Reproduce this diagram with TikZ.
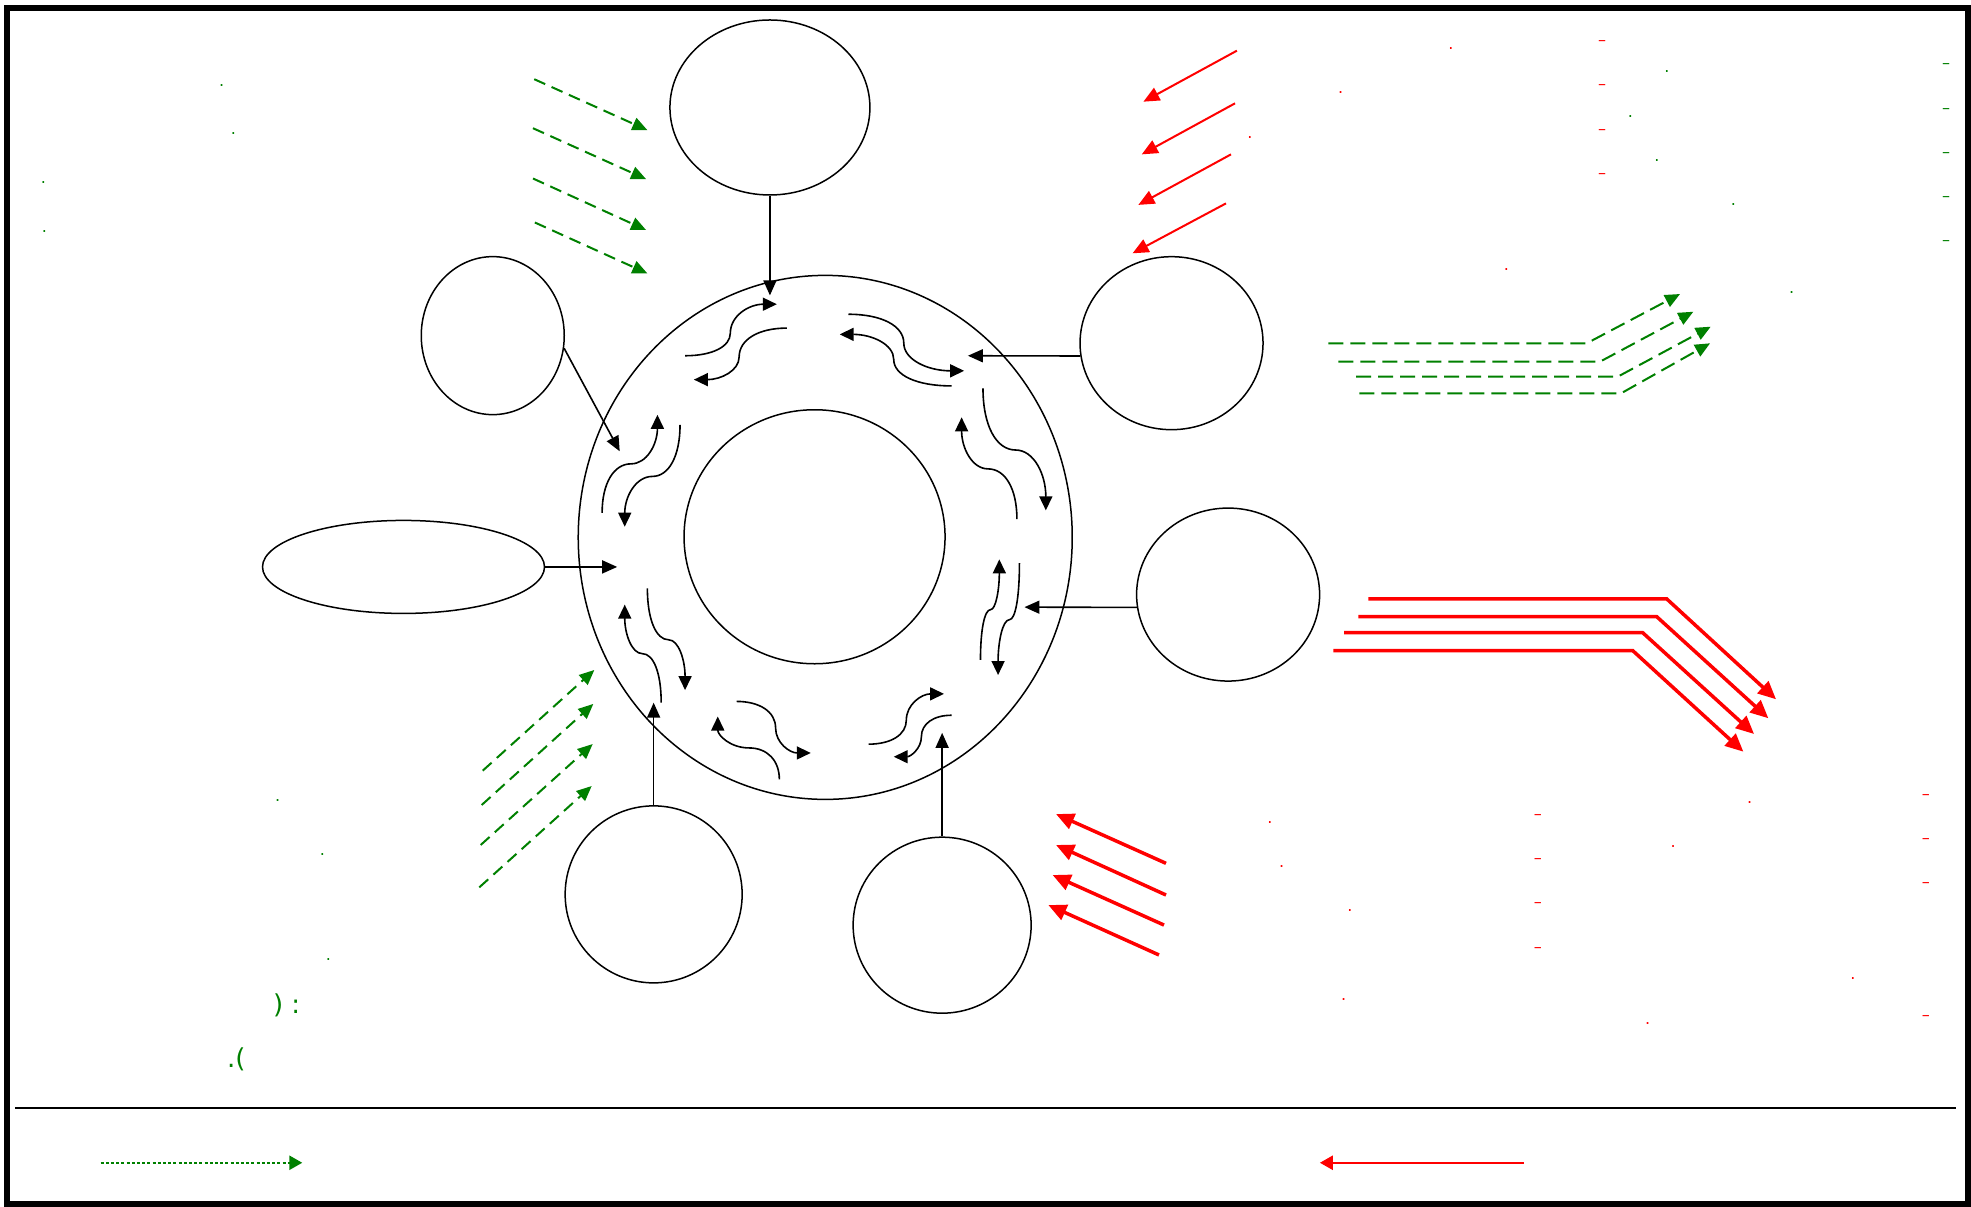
\documentclass[tikz,border=0pt]{standalone}
\usepackage{fontspec}
\setmainfont{DejaVu Sans}
\usetikzlibrary{arrows.meta,shapes.geometric}
\definecolor{gr}{RGB}{0,128,0}
\newcommand\myHcurve[6]{\draw[wave] (#1,#2) .. controls ({#1+0.6*(#3-#1)},#2) and (#3,{#4+0.6*(#2-#4)}) .. (#3,#4) .. controls (#3,{#4+0.6*(#6-#4)}) and ({#5+0.6*(#3-#5)},#6) .. (#5,#6);}
\newcommand\myVcurve[6]{\draw[wave] (#1,#2) .. controls (#1,{#2+0.6*(#4-#2)}) and ({#3+0.6*(#1-#3)},#4) .. (#3,#4) .. controls ({#3+0.6*(#5-#3)},#4) and (#5,{#6+0.6*(#4-#6)}) .. (#5,#6);}
\begin{document}
\begin{tikzpicture}[x=1.257pt,y=-1.257pt,
  ell/.style={draw, ellipse, line width=1.5pt, inner sep=0pt},
  conn/.style={line width=1.6pt, -{Triangle[length=15pt,width=13pt]}},
  wave/.style={line width=1.6pt, -{Triangle[length=14pt,width=13pt]}},
  gdash/.style={gr, line width=2pt, dash pattern=on 12pt off 7pt, -{Triangle[length=15pt,width=13pt]}},
  gdashb/.style={gdash, dash pattern=on 15pt off 7pt},
  rthin/.style={red, line width=2pt, -{Triangle[length=16pt,width=14pt]}},
  rthick/.style={red, line width=3.5pt, -{Triangle[length=18pt,width=16pt]}},
  gtxt/.style={text=gr, inner sep=0pt, font=\fontsize{16}{18}\selectfont},
  rtxt/.style={text=red, inner sep=0pt, font=\fontsize{16}{18}\selectfont},
  bigtxt/.style={text=gr, inner sep=0pt, font=\fontsize{26}{30}\selectfont}]
\useasboundingbox (0,0) rectangle (1568,960);
% frame and separator
\draw[line width=6pt] (5.6,6.4) rectangle (1565.6,957.8);
\draw[line width=1.8pt] (12,881.7) -- (1556,881.7);

% central ring
\node[ell, minimum width=494pt, minimum height=524pt] (ring) at (656.5,427.5) {};
\node[ell, minimum width=261pt, minimum height=254pt] (core) at (648,427) {};

% surrounding ellipses
\node[ell, minimum width=200pt, minimum height=175pt] (top) at (612.5,85.5) {};
\node[ell, minimum width=143pt, minimum height=158pt] (ul) at (392,267) {};
\node[ell, minimum width=282pt, minimum height=93pt] (lft) at (321,451) {};
\node[ell, minimum width=177pt, minimum height=177pt] (bl) at (520,711.5) {};
\node[ell, minimum width=178pt, minimum height=176pt] (br) at (749.5,736) {};
\node[ell, minimum width=183pt, minimum height=173pt] (rgt) at (977,473) {};
\node[ell, minimum width=183pt, minimum height=173pt] (ur) at (932,273) {};

% connectors into the ring
\coordinate (tTip) at (612.5,235);
\coordinate (ulTip) at (493,359);
\coordinate (lTip) at (491,451);
\coordinate (blTip) at (520,559);
\coordinate (brTip) at (749.5,583);
\coordinate (rTip) at (815,483);
\coordinate (urTip) at (770,283);
\draw[conn] (top.south) -- (tTip);
\draw[conn] (ul.-10) -- (ulTip);
\draw[conn] (lft.east) -- (lTip);
\draw[conn] (bl.north) -- (blTip);
\draw[conn] (br.north) -- (brTip);
\draw[conn] (rgt.188) -- (rTip);
\draw[conn] (ur.188) -- (urTip);

% wavy exchange arrows inside the ring
\myHcurve{545}{283}{581}{265}{618}{242}
\myHcurve{626}{261}{588}{284}{552}{302}
\myHcurve{675}{250}{719}{273}{767}{295}
\myHcurve{757}{307}{711}{286}{668}{266}
\myVcurve{782}{309}{808}{358}{832}{406}
\myVcurve{809}{413}{786}{373}{765}{332}
\myVcurve{811}{448}{803}{493}{794}{537}
\myVcurve{780}{525}{788}{485}{795}{445}
\myHcurve{691}{592}{721}{573}{751}{552}
\myHcurve{757}{569}{733}{586}{711}{602}
\myHcurve{586}{558}{617}{579}{645}{599}
\myVcurve{620}{620}{596}{595}{571}{570}
\myVcurve{515}{468}{532}{509}{545}{549}
\myVcurve{526}{559}{511}{520}{497}{481}
\myVcurve{479}{408}{502}{369}{523}{330}
\myVcurve{541}{338}{519}{379}{497}{419}

% green dashed arrows, top left
\draw[gdash] (425,63) -- (515,103.5);
\draw[gdash] (424,102) -- (514,142.5);
\draw[gdash] (424,142) -- (514,183);
\draw[gdash] (425.5,177) -- (515,217.5);

% red arrows, top
\draw[rthin] (984,40.3) -- (909.6,80.9);
\draw[rthin] (982.5,82.2) -- (908.3,122.8);
\draw[rthin] (979.3,122.8) -- (905.6,163);
\draw[rthin] (975.3,161.8) -- (901,201.5);

% green dashed bent arrows, right
\draw[gdashb] (1056.8,273.1) -- (1262.3,273.1) -- (1336.5,233.9);
\draw[gdashb] (1064.7,287.7) -- (1272.9,287.7) -- (1347.1,248);
\draw[gdashb] (1078.8,299.7) -- (1286.9,299.7) -- (1360.9,259.9);
\draw[gdashb] (1081.4,312.9) -- (1289.6,312.9) -- (1360.4,273.1);

% red thick bent arrows, right
\draw[rthick] (1088.6,476.5) -- (1326,476.5) -- (1412.9,556.3);
\draw[rthick] (1080.6,490.6) -- (1318,490.6) -- (1406.8,571.4);
\draw[rthick] (1069.2,503.3) -- (1306.8,503.3) -- (1395.4,583.9);
\draw[rthick] (1060.7,517.6) -- (1298.9,517.6) -- (1386.9,598);

% red thick arrows, bottom
\draw[rthick] (927.6,686.8) -- (840.1,647.6);
\draw[rthick] (927.6,712) -- (840.1,672.2);
\draw[rthick] (926,735.9) -- (837.4,696.1);
\draw[rthick] (922,759.7) -- (834,720);

% green dashed arrows, bottom left
\draw[gdash] (384,613.1) -- (472.8,533);
\draw[gdash] (383.2,640.4) -- (472,560);
\draw[gdash] (382.4,672.2) -- (471.5,591.9);
\draw[gdash] (381.3,705.9) -- (470.7,625.3);

% legend
\coordinate (lgA) at (80,925);
\coordinate (lgB) at (240.5,925);
\coordinate (lgC) at (1212,925);
\coordinate (lgD) at (1050,925);
\draw[gr, line width=2.5pt, dash pattern=on 3pt off 2.2pt, -{Triangle[length=13pt,width=14pt]}] (lgA) -- (lgB);
\draw[red, line width=2.5pt, -{Triangle[length=13pt,width=14pt]}] (lgC) -- (lgD);

% text remnants
\foreach \i/\p in {1/{(176.4,67.9)},2/{(185.6,106)},3/{(34.5,145)},4/{(35.3,184)},5/{(220.9,637.2)},6/{(256.4,679.4)},7/{(261.2,763.7)},8/{(1326,57)},9/{(1297,92.8)},10/{(1318.1,127.6)},11/{(1379,162.6)},12/{(1425.3,232.6)}}
  \node[gtxt] (gd\i) at \p {.};
\foreach \i/\y in {1/52.8,2/88.6,3/123.6,4/158.6,5/193.6}
  \node[gtxt] (gm\i) at (1548.2,\y) {–};
\node[bigtxt] (gp1) at (228,800) {) :};
\node[bigtxt] (gp2) at (188,843) {.(};
\foreach \i/\p in {1/{(1154.3,38.5)},2/{(1066.6,73.5)},3/{(994.4,109.2)},4/{(1198.3,214.3)},5/{(1010.2,654.2)},6/{(1019.6,689.2)},7/{(1073.8,724.2)},8/{(1069,795)},9/{(1392,638.3)},10/{(1331,673.3)},11/{(1474,778.3)},12/{(1310.8,814.1)}}
  \node[rtxt] (rd\i) at \p {.};
\foreach \i/\x/\y in {1/1274.5/34.5,2/1274.5/69.5,3/1274.5/105.2,4/1274.5/140,5/1223.4/650.2,6/1223.4/685.2,7/1223.4/720.2,8/1223.4/756,9/1532.1/634.3,10/1532.1/669.3,11/1532.1/704.3,12/1532.1/810.1}
  \node[rtxt] (rm\i) at (\x,\y) {–};
\end{tikzpicture}
\end{document}
